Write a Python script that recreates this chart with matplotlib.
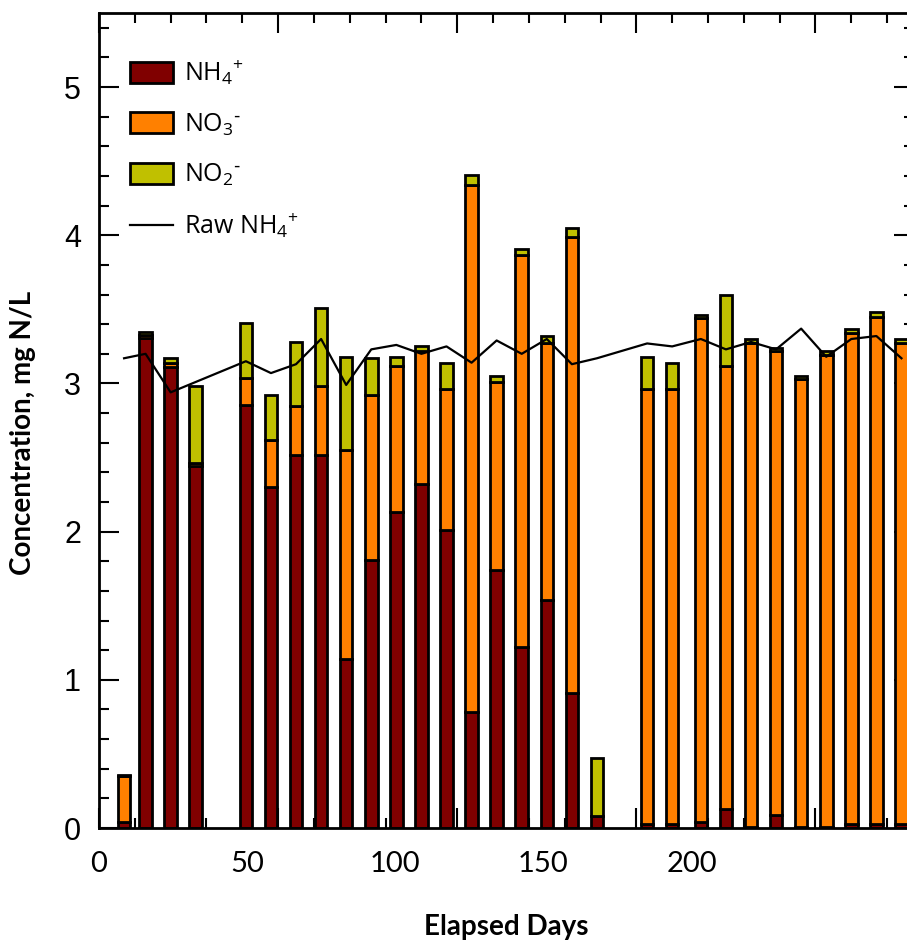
import matplotlib
matplotlib.use("Agg")
import matplotlib.pyplot as plt
from matplotlib.patches import Patch
from matplotlib.lines import Line2D
from matplotlib.ticker import MultipleLocator

# sampling days (weekly) and stacked concentrations, mg N/L
days = [7, 13, 20, 27, 41, 48, 55, 62, 69, 76, 83, 90, 97, 104, 111, 118, 125, 132, 139,
        153, 160, 168, 175, 182, 189, 196, 203, 210, 217, 224]
nh4 = [0.04, 3.31, 3.11, 2.44, 2.855, 2.30, 2.52, 2.52, 1.14, 1.81, 2.13, 2.32, 2.01, 0.78,
       1.74, 1.22, 1.54, 0.91, 0.08, 0.03, 0.03, 0.04, 0.13, 0.01, 0.09, 0.01, 0.01, 0.03,
       0.03, 0.03]
no3 = [0.31, 0.02, 0.03, 0.02, 0.185, 0.32, 0.33, 0.46, 1.41, 1.11, 0.99, 0.90, 0.95, 3.56,
       1.27, 2.65, 1.73, 3.08, 0.0, 2.93, 2.93, 3.40, 2.99, 3.26, 3.13, 3.02, 3.18, 3.31,
       3.42, 3.24]
no2 = [0.01, 0.02, 0.03, 0.52, 0.37, 0.30, 0.43, 0.53, 0.63, 0.25, 0.06, 0.03, 0.18, 0.07,
       0.04, 0.04, 0.05, 0.06, 0.39, 0.22, 0.18, 0.02, 0.48, 0.03, 0.02, 0.02, 0.03, 0.03,
       0.03, 0.03]

# raw influent ammonium
raw_days = [7, 13, 20, 41, 48, 55, 62, 69, 76, 83, 90, 97, 104, 111, 118, 125, 132, 139,
            153, 160, 168, 175, 182, 189, 196, 203, 210, 217, 224]
raw_nh4 = [3.17, 3.20, 2.94, 3.15, 3.07, 3.13, 3.30, 2.99, 3.23, 3.26, 3.20, 3.25, 3.14,
           3.29, 3.20, 3.30, 3.13, 3.17, 3.27, 3.25, 3.30, 3.23, 3.28, 3.23, 3.37, 3.18,
           3.30, 3.32, 3.17]

# x tick labels as printed on the original figure (label text, position in days)
xtick_text = ["0", "50", "100", "150", "200"]
xtick_pos = [0, 41.3, 82.7, 124.0, 165.4]

plt.rcParams['font.family'] = ['Open Sans', 'DejaVu Sans']

fig = plt.figure(figsize=(9.07, 9.44), dpi=100)
ax = fig.add_axes([99 / 907, 116 / 944, 815 / 907, 815 / 944])

bottom2 = [a + b for a, b in zip(nh4, no3)]
bar_kw = dict(width=3.5, edgecolor='black', linewidth=2)
ax.bar(days, nh4, color='#800000', **bar_kw)
ax.bar(days, no3, bottom=nh4, color='#FF8000', **bar_kw)
ax.bar(days, no2, bottom=bottom2, color='#C0C000', **bar_kw)
ax.plot(raw_days, raw_nh4, color='black', linewidth=1.6, zorder=3)

ax.set_xlim(0, 227.5)
ax.set_ylim(0, 5.5)
ax.set_axisbelow(True)

ax.xaxis.set_major_locator(MultipleLocator(50))
ax.xaxis.set_minor_locator(MultipleLocator(10))
ax.yaxis.set_major_locator(MultipleLocator(1))
ax.yaxis.set_minor_locator(MultipleLocator(0.2))
ax.tick_params(axis='both', which='both', direction='in', top=True, right=True, width=1.5)
ax.tick_params(which='major', length=14.5)
ax.tick_params(which='minor', length=7.5)
ax.tick_params(axis='x', labelbottom=False)
ax.tick_params(axis='y', labelsize=22, pad=13)
for lab in ax.get_yticklabels():
    lab.set_fontfamily('Liberation Sans')
for sp in ax.spines.values():
    sp.set_linewidth(2)

for t, p in zip(xtick_text, xtick_pos):
    ax.text(p, -0.0442, t, transform=ax.get_xaxis_transform(), ha='center', va='center',
            fontsize=21, family='Lato')

ax.text(0.5, -0.1215, 'Elapsed Days', transform=ax.transAxes, ha='center', va='center',
        fontsize=20, family='Lato', fontweight='bold')
ax.text(-0.0933, 0.485, 'Concentration, mg N/L', transform=ax.transAxes, ha='center',
        va='center', rotation=90, fontsize=20, family='Lato', fontweight='bold')

handles = [Patch(facecolor='#800000', edgecolor='black', linewidth=2),
           Patch(facecolor='#FF8000', edgecolor='black', linewidth=2),
           Patch(facecolor='#C0C000', edgecolor='black', linewidth=2),
           Line2D([], [], color='black', linewidth=1.6)]
labels = [r'NH$_\mathregular{4}$$^\mathregular{+}$', r'NO$_\mathregular{3}$$^{\text{-}}$',
          r'NO$_\mathregular{2}$$^{\text{-}}$', r'Raw NH$_\mathregular{4}$$^\mathregular{+}$']
ax.legend(handles, labels, loc='upper left', bbox_to_anchor=(31 / 815, 1 - 46 / 815),
          frameon=False, fontsize=18, handlelength=1.72, handleheight=0.92,
          handletextpad=0.45, labelspacing=0.96, borderpad=0, borderaxespad=0)

fig.savefig('out.png', dpi=100)
